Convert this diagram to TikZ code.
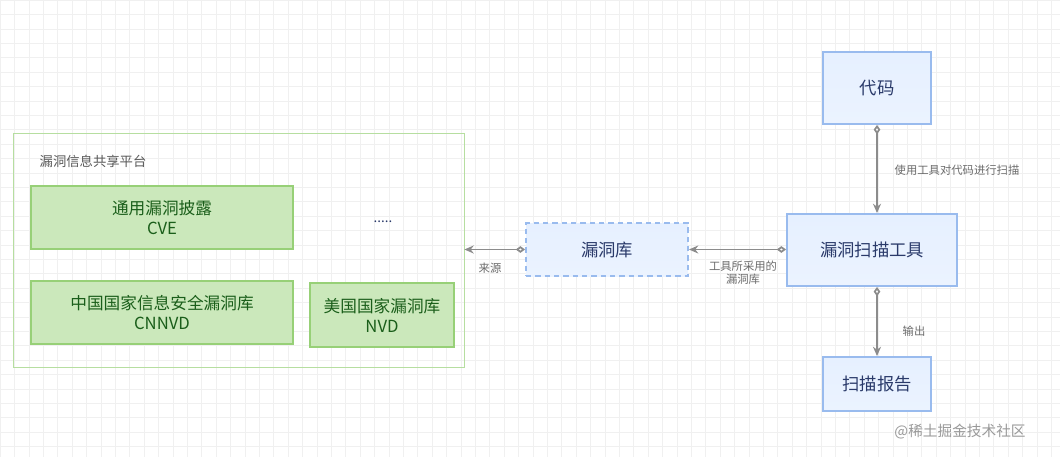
\documentclass[tikz,border=0pt]{standalone}
\usepackage{fontspec}
\setmainfont{Noto Sans CJK SC}
\usetikzlibrary{arrows.meta}
\definecolor{gfill}{HTML}{B9E0A5}
\definecolor{gline}{HTML}{97D077}
\definecolor{gtext}{HTML}{1A5E1A}
\definecolor{bline}{HTML}{99BBEE}
\definecolor{bfill}{HTML}{E6F0FF}
\definecolor{btext}{HTML}{2A3A6A}
\begin{document}
\begin{tikzpicture}[x=0.75pt,y=-0.75pt,
 gbox/.style={draw=gline,fill=gfill!75,line width=0.8pt,text=gtext,font=\fontsize{12.5}{15}\selectfont,align=center,inner sep=0},
 bbox/.style={draw=bline,line width=1.4pt,top color=bfill,bottom color=bfill!80,text=btext,font=\fontsize{13}{15}\selectfont,inner sep=0},
 conn/.style={draw=gray!90,line width=1.3pt,{Diamond[open,length=7pt,width=5pt,fill=white]}-{Stealth[length=7pt,width=6pt]}},
 lbl/.style={text=gray!85!black,font=\fontsize{8.5}{10}\selectfont,align=center}]
\useasboundingbox (0,0) rectangle (1060,457);
\fill[white] (0,0) rectangle (1060,457);
\draw[black!6,step=10.8pt] (0,0) grid (1060,457);
\node[draw=gline!70,line width=0.6pt,minimum width=451*0.75pt,minimum height=234*0.75pt,inner sep=0] (plat) at (238.5,250) {};
\node[anchor=west,text=gray!70!black,font=\fontsize{10}{12}\selectfont] (ptitle) at (35,161) {漏洞信息共享平台};
\node[gbox,minimum width=262*0.75pt,minimum height=63*0.75pt] (cve) at (162,217.5) {通用漏洞披露\\CVE};
\node[gbox,minimum width=262*0.75pt,minimum height=63*0.75pt] (cnnvd) at (162,312.5) {中国国家信息安全漏洞库\\CNNVD};
\node[gbox,minimum width=144*0.75pt,minimum height=64*0.75pt] (nvd) at (382,315) {美国国家漏洞库\\NVD};
\node[text=btext,font=\fontsize{10}{12}\selectfont] (dots) at (383,222) {.....};
\node[bbox,dashed,dash pattern=on 4pt off 3pt,minimum width=162*0.75pt,minimum height=53*0.75pt] (lib) at (607,249.5) {漏洞库};
\node[bbox,minimum width=170*0.75pt,minimum height=72*0.75pt] (tool) at (872,250) {漏洞扫描工具};
\node[bbox,minimum width=108*0.75pt,minimum height=72*0.75pt] (code) at (877,88) {代码};
\node[bbox,minimum width=108*0.75pt,minimum height=54*0.75pt] (rep) at (877,384) {扫描报告};
\draw[conn] (lib.west) -- (plat.east |- lib.west);
\draw[conn] (tool.west |- lib.east) -- (lib.east);
\draw[conn] (code.south) -- (code.south |- tool.north);
\draw[conn] (rep.north |- tool.south) -- (rep.north);
\node[lbl] (l1) at (490,268) {来源};
\node[lbl] (l2) at (743,273) {工具所采用的\\漏洞库};
\node[lbl,anchor=west] (l3) at (890,170) {使用工具对代码进行扫描};
\node[lbl,anchor=west] (l4) at (898,331) {输出};
\node[text=gray!80,font=\fontsize{11}{13}\selectfont] (wm) at (960,432) {@稀土掘金技术社区};
\end{tikzpicture}
\end{document}
